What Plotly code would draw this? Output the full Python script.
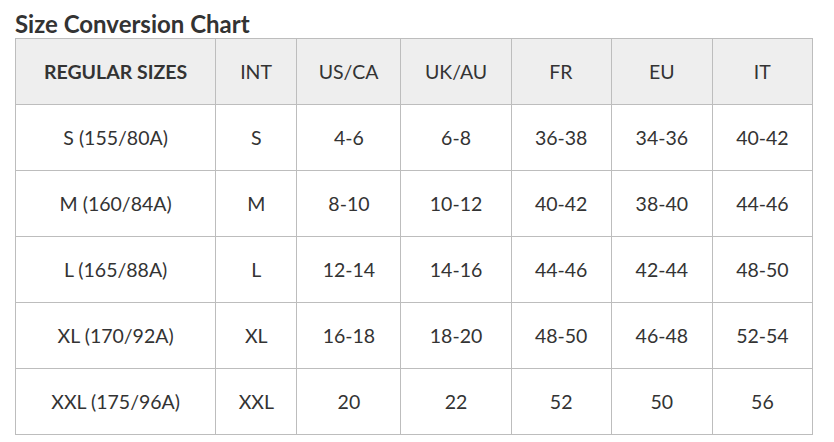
import plotly.graph_objects as go

# Table content
headers = ["REGULAR SIZES", "INT", "US/CA", "UK/AU", "FR", "EU", "IT"]
regular_sizes = ["S (155/80A)", "M (160/84A)", "L (165/88A)", "XL (170/92A)", "XXL (175/96A)"]
int_sizes = ["S", "M", "L", "XL", "XXL"]
us_ca = ["4-6", "8-10", "12-14", "16-18", "20"]
uk_au = ["6-8", "10-12", "14-16", "18-20", "22"]
fr = ["36-38", "40-42", "44-46", "48-50", "52"]
eu = ["34-36", "38-40", "42-44", "46-48", "50"]
it = ["40-42", "44-46", "48-50", "52-54", "56"]

W, H = 834, 442
OFF = 8  # page body margin
col_widths = [200, 81, 104, 110, 100, 101, 100]


def centred(vals):
    # go.Table has no vertical alignment, push text down with a small spacer line
    return ["<span style='font-size:8px'>&nbsp;</span><br>" + v for v in vals]


fig = go.Figure()

fig.add_trace(go.Table(
    columnwidth=col_widths,
    domain=dict(x=[(15.5 - OFF) / W, (812.5 - OFF) / W], y=[0, 1 - (38 - OFF) / H]),
    header=dict(
        values=centred(["<b>REGULAR SIZES</b>"] + headers[1:]),
        fill_color="#eeeeee",
        line=dict(color="#bdbdbd", width=1),
        align="center",
        height=66,
        font=dict(family="Lato", size=19.5, color="#333333"),
    ),
    cells=dict(
        values=[centred(c) for c in [regular_sizes, int_sizes, us_ca, uk_au, fr, eu, it]],
        fill_color="white",
        line=dict(color="#bdbdbd", width=1),
        align="center",
        height=66,
        font=dict(family="Lato", size=19.5, color="#333333"),
    ),
))

fig.add_annotation(
    text="<b>Size Conversion Chart</b>",
    x=(14 - OFF) / W, y=1, xref="paper", yref="paper",
    xanchor="left", yanchor="top", showarrow=False, borderpad=0,
    font=dict(family="Lato", size=24, color="#333333"),
)

fig.update_layout(
    width=W, height=H,
    margin=dict(l=0, r=0, t=0, b=0),
    paper_bgcolor="white",
)

fig.write_html("out.html")
